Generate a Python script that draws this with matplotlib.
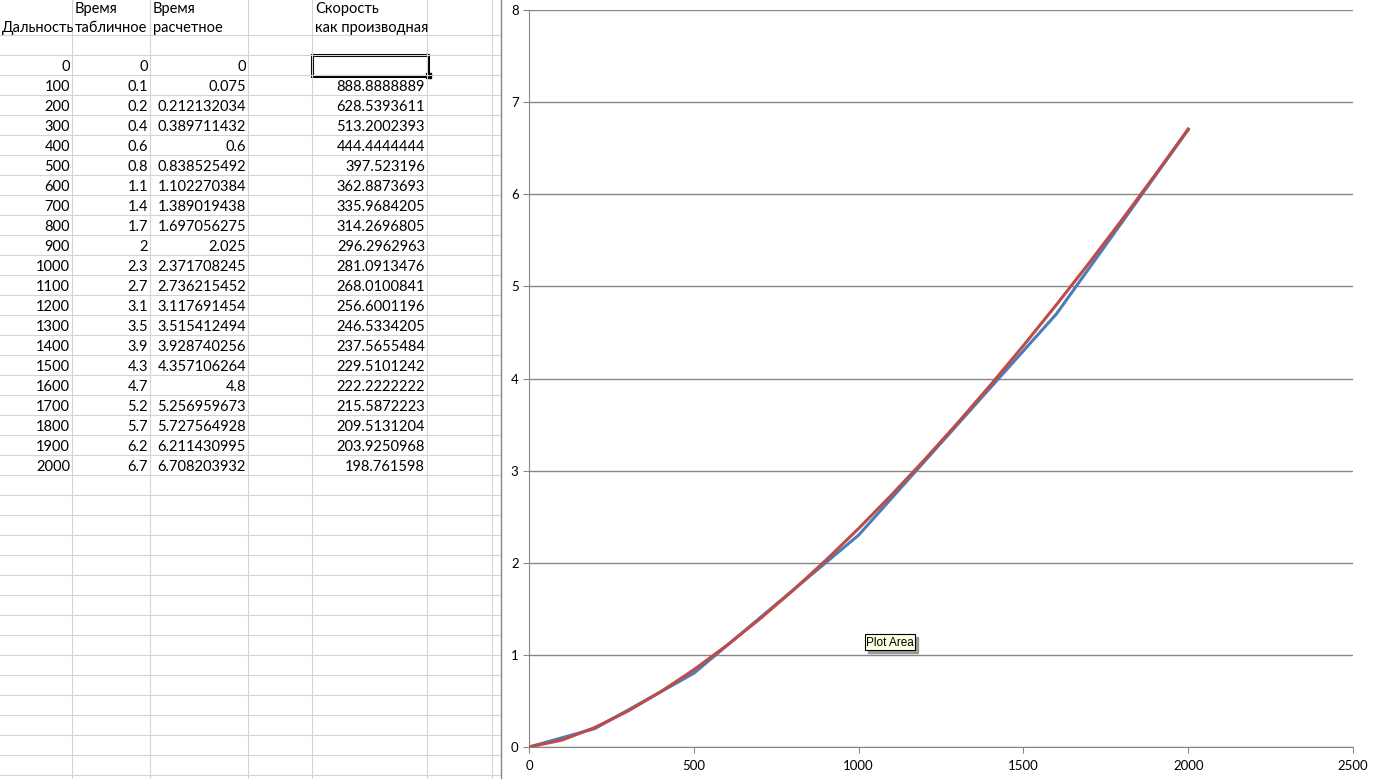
import matplotlib.pyplot as plt
from matplotlib.patches import Rectangle

# table / chart data
distance = [0, 100, 200, 300, 400, 500, 600, 700, 800, 900, 1000,
            1100, 1200, 1300, 1400, 1500, 1600, 1700, 1800, 1900, 2000]
time_table = [0, 0.1, 0.2, 0.4, 0.6, 0.8, 1.1, 1.4, 1.7, 2, 2.3,
              2.7, 3.1, 3.5, 3.9, 4.3, 4.7, 5.2, 5.7, 6.2, 6.7]
time_calc = [0, 0.075, 0.212132034, 0.389711432, 0.6, 0.838525492,
             1.102270384, 1.389019438, 1.697056275, 2.025, 2.371708245,
             2.736215452, 3.117691454, 3.515412494, 3.928740256, 4.357106264,
             4.8, 5.256959673, 5.727564928, 6.211430995, 6.708203932]
speed = [None, 888.8888889, 628.5393611, 513.2002393, 444.4444444, 397.523196,
         362.8873693, 335.9684205, 314.2696805, 296.2962963, 281.0913476,
         268.0100841, 256.6001196, 246.5334205, 237.5655484, 229.5101242,
         222.2222222, 215.5872223, 209.5131204, 203.9250968, 198.761598]

x_ticks = [0, 500, 1000, 1500, 2000, 2500]
y_ticks = [0, 1, 2, 3, 4, 5, 6, 7, 8]

W, H = 1385, 779
plt.rcParams['font.family'] = ['Lato', 'DejaVu Sans']
fig = plt.figure(figsize=(W / 100, H / 100), dpi=100)

# spreadsheet background in pixel coords
bg = fig.add_axes([0, 0, 1, 1])
bg.set_xlim(0, W)
bg.set_ylim(H, 0)
bg.axis('off')
grid_c = '#d4d4d4'
col_lines = [72, 150, 248, 312, 427, 492]
for xc in col_lines:
    bg.plot([xc, xc], [0, H], color=grid_c, lw=0.8)
y = 35
while y < H:
    bg.plot([0, 501], [y, y], color=grid_c, lw=0.8)
    y += 20

fs = 10.5
bg.text(2, 28, 'Дальность', fontsize=fs, va='center')
bg.text(75, 8.5, 'Время', fontsize=fs, va='center')
bg.text(75, 28, 'табличное', fontsize=fs, va='center')
bg.text(153, 8.5, 'Время', fontsize=fs, va='center')
bg.text(153, 28, 'расчетное', fontsize=fs, va='center')
bg.text(315, 8.5, 'Скорость', fontsize=fs, va='center')
bg.text(315, 28, 'как производная', fontsize=fs, va='center')

for i in range(len(distance)):
    yy = 67 + 20 * i
    bg.text(70, yy, '%g' % distance[i], fontsize=fs, va='center', ha='right')
    bg.text(148, yy, '%.10g' % time_table[i], fontsize=fs, va='center', ha='right')
    bg.text(246, yy, '%.10g' % time_calc[i], fontsize=fs, va='center', ha='right')
    if speed[i] is not None:
        bg.text(425, yy, '%.10g' % speed[i], fontsize=fs, va='center', ha='right')

# selected cell
bg.add_patch(Rectangle((312, 55), 116, 21, fill=False, ec='black', lw=2.2))
bg.add_patch(Rectangle((426, 73), 5, 5, color='black'))

# chart area
bg.add_patch(Rectangle((501, 0), W - 501, H, facecolor='white', edgecolor='none'))
bg.plot([501, 501], [0, H], color='#868686', lw=1)

# chart
ax = fig.add_axes([529 / W, (H - 747) / H, (1353 - 529) / W, (747 - 10) / H])
ax.set_facecolor('none')
ax.plot(distance, time_table, color='#4a7ebb', lw=2.2, zorder=3)
ax.plot(distance, time_calc, color='#be4b48', lw=2.2, zorder=4)
ax.set_xlim(0, 2500)
ax.set_ylim(0, 8)
ax.set_xticks(x_ticks)
ax.set_yticks(y_ticks)
ax.yaxis.grid(True, color='#868686', lw=1)
ax.set_axisbelow(True)
for s in ['top', 'right']:
    ax.spines[s].set_visible(False)
for s in ['left', 'bottom']:
    ax.spines[s].set_color('#868686')
ax.tick_params(colors='#868686', labelcolor='black', labelsize=9.5, length=4)
ax.tick_params(axis='x', pad=5)

# tooltip
fg = fig.add_axes([0, 0, 1, 1], zorder=10)
fg.set_xlim(0, W)
fg.set_ylim(H, 0)
fg.axis('off')
fg.add_patch(Rectangle((868, 637), 50, 16, color='#9a9a9a'))
fg.add_patch(Rectangle((865, 634), 50, 16, facecolor='#ffffe1', edgecolor='black', lw=0.8))
fg.text(890, 642.5, 'Plot Area', fontsize=8.5, ha='center', va='center', family=['Liberation Sans'])

fig.savefig('out.png', dpi=100)
